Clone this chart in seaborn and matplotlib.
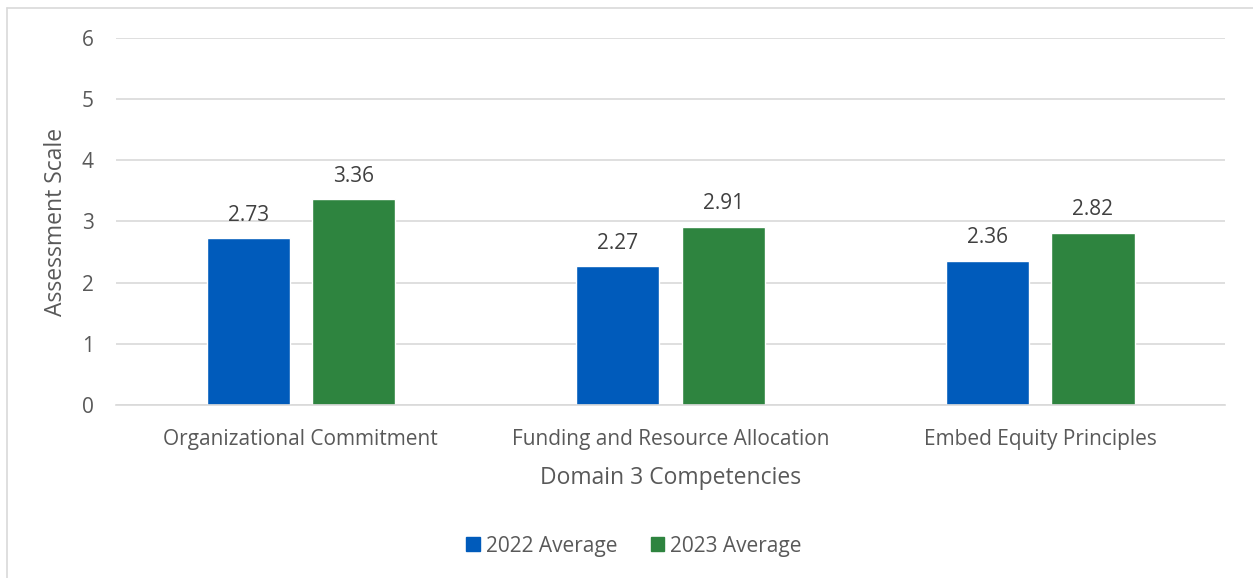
import matplotlib
matplotlib.use("Agg")
import matplotlib.pyplot as plt
import seaborn as sns
import pandas as pd
from matplotlib.lines import Line2D

categorias = ["Organizational Commitment", "Funding and Resource Allocation", "Embed Equity Principles"]
series = ["2022 Average", "2023 Average"]
media_2022 = [2.73, 2.27, 2.36]
media_2023 = [3.36, 2.91, 2.82]
cores = ["#005BBB", "#2E843F"]

dados = pd.DataFrame({
    "categoria": categorias * 2,
    "serie": [series[0]] * 3 + [series[1]] * 3,
    "valor": media_2022 + media_2023,
})

sns.set_theme(style="white")
plt.rcParams["font.family"] = ["Open Sans", "DejaVu Sans"]
cinza = "#595959"

fig = plt.figure(figsize=(12.53, 5.78), dpi=100)
ax = fig.add_axes([0.0926, 0.2993, 0.8851, 0.635])

sns.barplot(data=dados, x="categoria", y="valor", hue="serie", palette=cores,
            width=0.57, gap=0.21, saturation=1, ax=ax, legend=False)

for cont in ax.containers:
    ax.bar_label(cont, fmt="%.2f", padding=9, fontsize=15, color="#404040")

ax.set_ylim(0, 6)
ax.set_yticks(range(0, 7))
ax.grid(axis="y", color="#D9D9D9", linewidth=1.2)
ax.set_axisbelow(True)
for lado in ["top", "right", "left"]:
    ax.spines[lado].set_visible(False)
ax.spines["bottom"].set_color("#D9D9D9")
ax.spines["bottom"].set_linewidth(1.2)
ax.tick_params(axis="both", length=0, labelsize=15, colors=cinza)
ax.tick_params(axis="x", pad=17)
ax.tick_params(axis="y", pad=16)
ax.set_xlabel("Domain 3 Competencies", fontsize=16.5, color=cinza, labelpad=12)
ax.set_ylabel("Assessment Scale", fontsize=16.5, color=cinza, labelpad=10)

handles = [plt.Rectangle((0, 0), 1, 1, color=c) for c in cores]
fig.legend(handles, series, loc="center", bbox_to_anchor=(0.506, 0.055), ncol=2,
           frameon=False, fontsize=15, labelcolor=cinza, handlelength=0.65,
           handleheight=0.65, handletextpad=0.3, columnspacing=1.6)

# moldura da área do gráfico
fig.add_artist(Line2D([0.0056, 1.0], [0.986, 0.986], color="#D9D9D9", linewidth=1.2))
fig.add_artist(Line2D([0.0056, 0.0056], [0.0, 0.986], color="#D9D9D9", linewidth=1.2))

fig.savefig("out.png", dpi=100, facecolor="white")
